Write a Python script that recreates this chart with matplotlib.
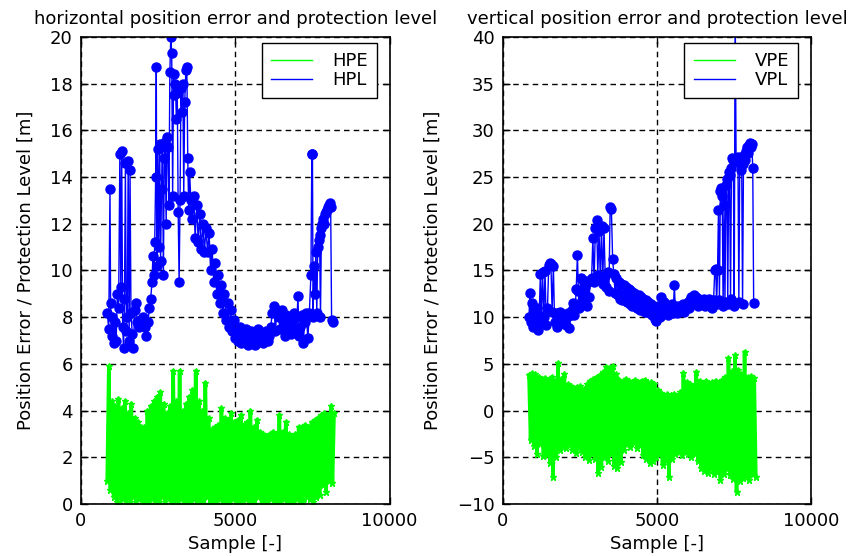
import numpy as np
import matplotlib
matplotlib.use("Agg")
import matplotlib.pyplot as plt
from matplotlib.lines import Line2D

# ---- data ----
# horizontal protection level (sample, metres)
hpl_x = [850, 900, 940, 960, 990, 1020, 1060, 1100, 1140, 1180, 1220, 1260, 1290, 1320, 1350,
         1380, 1410, 1440, 1470, 1500, 1530, 1560, 1590, 1620, 1660, 1700, 1740, 1780, 1820,
         1870, 1920, 1970, 2020, 2070, 2120, 2170, 2220, 2260,
         2300, 2330, 2360, 2390, 2420, 2440, 2460, 2490, 2520, 2550, 2580, 2610, 2640, 2670,
         2700, 2730, 2760, 2790, 2820, 2850, 2880, 2910, 2940, 2970, 3000, 3030, 3060, 3090,
         3120, 3150, 3180, 3210, 3240, 3270, 3300, 3330, 3360, 3400, 3430, 3460, 3490, 3520,
         3560, 3600, 3650, 3700, 3750, 3800, 3850, 3900, 3950, 4000, 4050, 4100, 4150, 4200,
         4250, 4300, 4350, 4400, 4450, 4500, 4550, 4600, 4650, 4700, 4750, 4800, 4850, 4900,
         4950, 5000, 5050, 5100, 5150, 5200, 5250, 5300, 5350, 5400, 5450, 5500, 5550, 5600,
         5650, 5700, 5750, 5800, 5850, 5900, 5950, 6000, 6050, 6100, 6150, 6200, 6250, 6300,
         6350, 6400, 6450, 6500, 6550, 6600, 6650, 6700, 6750, 6800, 6850, 6900, 6950, 7000,
         7030, 7060, 7100, 7150, 7200, 7250, 7300, 7350, 7400,
         7450, 7480, 7500, 7520, 7550, 7580, 7610, 7640, 7670, 7700, 7730, 7760, 7790, 7820,
         7850, 7880, 7910, 7940, 7970, 8000, 8030, 8060, 8090, 8120, 8150]
hpl_y = [8.2, 7.5, 13.5, 8.6, 7.2, 8.0, 6.9, 7.8, 7.0, 9.0, 8.4, 15.0, 9.3, 15.1, 7.6,
         6.7, 8.8, 14.6, 7.4, 8.0, 14.7, 7.0, 14.3, 8.2, 7.3, 6.7, 8.3, 8.6, 7.8,
         7.6, 7.9, 7.7, 8.0, 7.6, 7.2, 7.8, 8.4, 8.8,
         9.5, 10.6, 9.8, 11.2, 14.0, 18.7, 10.2, 15.2, 11.0, 15.4, 10.4, 13.5, 15.3, 9.8,
         14.8, 15.5, 12.0, 15.7, 15.3, 12.8, 18.5, 20.0, 19.3, 13.2, 18.4, 17.5, 18.0, 16.5,
         17.6, 12.5, 9.5, 13.0, 17.8, 16.8, 18.0, 13.2, 17.2, 18.6, 18.7, 14.8, 12.6, 14.2,
         13.0, 12.2, 13.2, 11.4, 12.8, 11.2, 12.4, 10.9, 12.0, 10.8, 11.8, 10.8, 11.6, 10.0,
         10.9, 9.5, 10.3, 9.0, 9.8, 8.6, 9.4, 8.2, 9.0, 7.9, 8.6, 7.6, 8.3, 7.4,
         7.9, 7.1, 7.4, 7.0, 7.6, 6.9, 7.3, 7.1, 7.5, 6.8, 7.2, 7.4, 7.0, 7.3,
         6.8, 7.2, 7.5, 7.0, 7.3, 6.9, 7.1, 7.4, 7.0, 7.2, 7.6, 8.2, 8.5, 7.4,
         8.3, 8.0, 7.5, 8.3, 7.9, 7.2, 8.1, 7.6, 7.9, 7.3, 7.8, 8.2, 7.4, 8.0,
         8.9, 7.2, 7.6, 8.1, 6.9, 7.8, 8.2, 7.1, 8.2,
         9.8, 15.0, 15.0, 8.0, 10.2, 9.0, 10.8, 8.2, 11.0, 11.3, 11.5, 8.0, 11.8, 12.0,
         12.2, 12.0, 12.4, 12.5, 12.6, 12.7, 12.8, 12.9, 12.7, 7.9, 7.8]

# horizontal position error: alternating low / high samples, 850..8200
hpe = [1.0, 5.9, 0.6, 4.4, 0.3, 4.2, 0.1, 4.5, 0.0, 4.1, 0.2, 4.4, 0.0, 3.9, 0.1, 4.3,
       0.3, 3.7, 0.0, 3.5, 0.2, 3.3, 0.0, 3.3, 0.1, 4.0, 0.0, 4.2, 0.2, 4.4, 0.0, 4.6,
       0.1, 4.8, 0.3, 4.3, 0.0, 3.9, 0.2, 4.2, 0.0, 5.7, 0.1, 4.4, 0.0, 5.7, 0.2, 4.0,
       0.0, 4.3, 0.1, 4.6, 0.0, 4.9, 0.2, 5.7, 0.0, 4.4, 0.1, 4.0, 0.0, 5.2, 0.3, 3.7,
       0.0, 3.2, 0.1, 3.3, 0.0, 3.4, 0.2, 4.1, 0.0, 3.7, 0.1, 3.6, 0.0, 3.9, 0.2, 3.5,
       0.0, 3.6, 0.1, 3.8, 0.0, 3.4, 0.2, 3.5, 0.0, 4.0, 0.1, 3.3, 0.0, 3.6, 0.3, 3.1,
       0.0, 3.0, 0.1, 2.9, 0.0, 3.0, 0.2, 3.1, 0.0, 3.0, 0.1, 3.8, 0.0, 3.1, 0.2, 3.5,
       0.0, 3.0, 0.1, 2.9, 0.0, 3.0, 0.2, 3.3, 0.0, 3.3, 0.1, 3.4, 0.3, 3.3, 0.2, 3.5,
       0.1, 3.6, 0.3, 3.7, 0.4, 3.8, 0.8, 3.9, 0.5, 3.8, 1.0, 4.2, 0.9, 3.9]

# vertical protection level (sample, metres)
vpl_x = [850, 880, 910, 940, 980, 1020, 1060, 1100, 1140, 1180, 1220, 1250, 1290, 1330, 1370,
         1410, 1450, 1490, 1520, 1560, 1600, 1640, 1680, 1720, 1760, 1800, 1840, 1880, 1920,
         1960, 2000, 2040, 2080, 2120, 2160, 2200, 2240, 2280, 2320, 2350, 2380, 2420, 2450,
         2480, 2520, 2560, 2600, 2640, 2680, 2720, 2760, 2800, 2840, 2880, 2920, 2960, 3000,
         3040, 3080, 3120, 3160, 3200, 3240, 3280, 3320, 3360, 3400, 3440, 3480, 3520, 3560,
         3600, 3640, 3680, 3720, 3760, 3800, 3840, 3880, 3920, 3960, 4000, 4040, 4080, 4120,
         4160, 4200, 4240, 4280, 4320, 4360, 4400, 4440, 4480, 4520, 4560, 4600, 4640, 4680,
         4720, 4760, 4800, 4840, 4880, 4920, 4960, 5000, 5040, 5080, 5120, 5160, 5200, 5240,
         5280, 5320, 5360, 5400, 5440, 5480, 5520, 5560, 5590, 5630, 5670, 5710, 5750, 5790,
         5830, 5870, 5910, 5950, 5990, 6030, 6070, 6110, 6150, 6190, 6230, 6270, 6310, 6350,
         6390, 6430, 6470, 6510, 6550, 6590, 6630, 6670, 6710, 6750, 6790, 6830, 6870, 6900,
         6930, 6960, 6990, 7020, 7050, 7080, 7110, 7140, 7170, 7200, 7230, 7260, 7290, 7320,
         7350, 7380, 7410, 7440, 7470, 7500, 7530, 7560, 7590, 7620, 7650, 7680, 7710, 7740,
         7770, 7800, 7830, 7860, 7890, 7920, 7950, 7980, 8010, 8040, 8070, 8100, 8130]
vpl_y = [10.0, 12.6, 9.5, 11.5, 8.9, 10.5, 9.2, 11.0, 8.6, 10.2, 14.6, 9.6, 14.8, 10.0, 14.9,
         9.2, 11.0, 15.6, 15.8, 15.7, 10.6, 15.5, 9.5, 10.5, 9.0, 10.0, 10.6, 9.4, 10.3,
         9.6, 10.2, 9.2, 10.0, 10.4, 8.8, 10.2, 10.8, 11.5, 10.2, 11.0, 13.0, 16.7, 12.8,
         11.0, 14.2, 11.8, 14.0, 12.5, 13.2, 11.2, 13.8, 12.2, 14.0, 14.2, 18.5, 13.8, 19.5,
         20.4, 14.5, 19.2, 14.2, 19.8, 13.6, 19.5, 14.4, 13.2, 14.8, 12.8, 21.8, 21.6, 16.2,
         14.6, 12.6, 14.2, 12.4, 13.8, 12.0, 13.6, 11.8, 13.4, 11.8, 13.2, 11.6, 13.0, 11.4,
         12.8, 11.2, 12.6, 11.2, 12.4, 11.0, 12.4, 10.8, 12.2, 10.8, 12.0, 10.6, 11.8, 10.6,
         11.6, 10.4, 11.4, 10.2, 11.2, 9.8, 9.6, 10.4, 11.2, 10.0, 12.2, 11.0, 10.4, 11.6,
         10.6, 11.2, 10.2, 11.0, 10.6, 11.4, 10.4, 13.4, 11.0, 10.4, 11.2, 10.6, 11.0, 10.8,
         11.4, 10.6, 11.2, 11.0, 11.6, 11.0, 11.8, 12.2, 11.4, 12.4, 11.6, 12.2, 11.2, 12.0,
         11.4, 11.8, 11.6, 12.0, 11.2, 11.8, 11.4, 12.0, 11.2, 11.6, 11.0, 11.8, 15.0, 15.2,
         11.4, 15.0, 21.5, 11.8, 23.5, 23.8, 23.0, 11.2, 22.0, 11.6, 24.2, 24.8, 11.4, 25.5,
         25.2, 12.0, 26.0, 27.0, 26.8, 11.2, 44.0, 27.0, 26.6, 27.2, 11.6, 26.8, 25.8, 27.0,
         11.4, 26.4, 27.4, 26.8, 27.8, 28.2, 27.6, 28.4, 28.6, 28.2, 28.5, 26.0, 11.5]

# vertical position error: alternating high / low samples, 850..8200
vpe = [3.8, -3.2, 4.0, -3.8, 3.9, -4.6, 3.6, -3.6, 3.4, -4.9, 3.5, -4.8, 3.3, -5.6, 3.6, -7.1,
       3.2, -5.0, 5.1, -4.2, 3.4, -3.8, 3.9, -4.0, 2.8, -3.6, 2.6, -4.2, 2.4, -4.5, 2.5, -4.0,
       2.6, -4.4, 2.3, -5.0, 2.8, -5.3, 3.2, -4.6, 3.4, -5.2, 3.6, -6.7, 3.8, -6.0, 4.1, -5.0,
       4.7, -5.4, 4.6, -4.6, 4.8, -5.9, 3.9, -6.1, 3.3, -5.5, 3.1, -4.2, 3.4, -3.6, 3.2, -3.9,
       3.1, -3.5, 3.3, -4.0, 3.1, -3.7, 3.2, -4.8, 3.3, -5.2, 3.0, -5.6, 3.1, -5.4, 2.8, -5.0,
       2.2, -4.6, 1.9, -5.8, 1.6, -5.4, 1.8, -7.1, 1.7, -5.2, 1.8, -4.6, 1.6, -4.4, 2.0, -4.8,
       4.0, -4.3, 3.1, -4.6, 2.8, -5.0, 2.6, -4.6, 4.1, -5.4, 3.2, -6.1, 3.0, -6.5, 3.2, -6.7,
       2.9, -6.3, 3.1, -6.8, 3.2, -6.6, 3.0, -7.4, 3.3, -6.8, 3.6, -6.2, 5.6, -6.9, 4.2, -7.3,
       5.9, -8.7, 4.4, -7.5, 3.9, -7.2, 6.3, -7.0, 3.6, -7.4, 3.7, -6.8, 3.5, -7.1]

first_sample, last_sample = 850, 8200
hpe_x = np.linspace(first_sample, last_sample, len(hpe))
vpe_x = np.linspace(first_sample, last_sample, len(vpe))

plt.rcParams['font.family'] = 'DejaVu Sans'
plt.rcParams['font.size'] = 13

fig = plt.figure(figsize=(8.55, 5.56), dpi=100)
ax1 = fig.add_axes([0.0947, 0.0935, 0.361, 0.840])
ax2 = fig.add_axes([0.588, 0.0935, 0.361, 0.840])

green = (0, 1, 0)
blue = (0, 0, 1)


def style(ax, ylim, yticks):
    ax.set_xlim(0, 10000)
    ax.set_ylim(*ylim)
    ax.set_xticks([0, 5000, 10000])
    ax.set_yticks(yticks)
    ax.grid(True, color='black', linestyle=(0, (4, 3)), linewidth=1.0)
    ax.tick_params(direction='in', top=True, right=True, length=5, width=1,
                   labelsize=13, pad=6)
    for s in ax.spines.values():
        s.set_linewidth(1.2)
    ax.set_xlabel('Sample [-]', fontsize=13, labelpad=3)
    ax.set_ylabel('Position Error / Protection Level [m]', fontsize=13, labelpad=11)


def legend(ax, names):
    leg = ax.legend(handles=[Line2D([], [], color=green, lw=1), Line2D([], [], color=blue, lw=1)],
                    labels=names, loc='upper right', bbox_to_anchor=(0.958, 0.987),
                    borderaxespad=0, fancybox=False, framealpha=1, edgecolor='black',
                    fontsize=13, handlelength=2.3, handletextpad=1.1, labelspacing=0.05,
                    borderpad=0.5)
    leg.get_frame().set_linewidth(1.0)


ax1.plot(hpe_x, hpe, '-*', color=green, lw=2.6, ms=5, mew=1)
ax1.plot(hpl_x, hpl_y, '-o', color=blue, lw=1.0, ms=6.5, mew=1)
style(ax1, (0, 20), range(0, 21, 2))
ax1.set_title('horizontal position error and protection level', fontsize=13, pad=9)
legend(ax1, ['HPE', 'HPL'])

ax2.plot(vpe_x, vpe, '-*', color=green, lw=2.6, ms=5, mew=1)
ax2.plot(vpl_x, vpl_y, '-o', color=blue, lw=1.0, ms=6.5, mew=1)
style(ax2, (-10, 40), range(-10, 41, 5))
ax2.set_title('vertical position error and protection level', fontsize=13, pad=9)
legend(ax2, ['VPE', 'VPL'])

fig.savefig('out.png', dpi=100)
